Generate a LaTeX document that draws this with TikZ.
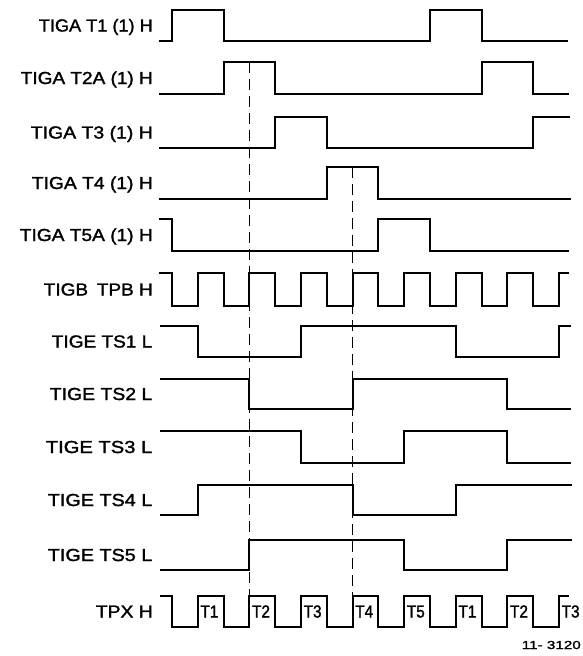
\documentclass[tikz,border=0pt]{standalone}
\usepackage{fontspec}
\setmainfont{Liberation Sans}[FakeBold=1.5]
\newfontfamily\pulsefont{Liberation Sans}[FakeStretch=0.88,FakeBold=1.5]
\newcommand\labfont{\fontsize{17.4}{19}\selectfont}
\newcommand\fignofont{\fontsize{11.6}{13}\selectfont}
\newlength\mylabw
\newcommand\labscale{1}
% #1 font, #2 left edge x, #3 right edge x, #4 text: text scaled to fill the span
\newcommand\fitlab[4]{\settowidth\mylabw{#1#4}%
  \pgfmathsetmacro\labscale{(#3-#2)/\mylabw}%
  \scalebox{\labscale}[1]{#1#4}}
\begin{document}
\begin{tikzpicture}[x=1pt,y=-1pt,
  declare function={tk(\k)=172+25.8*\k;},
  wave/.style={line width=2pt,line join=miter},
  guide/.style={line width=1.1pt,dash pattern=on 11pt off 6pt},
  lab/.style={anchor=base east,inner sep=0pt},
  plab/.style={anchor=base west,inner sep=0pt,font=\pulsefont\fontsize{17.4}{19}\selectfont},
  figno/.style={anchor=base east,inner sep=0pt}]
\useasboundingbox (0,0) rectangle (583,656);

% labels
\node[lab] (l1)  at (153,31.5)  {\fitlab{\labfont}{39}{153}{TIGA T1 (1) H}};
\node[lab] (l2)  at (153,84)    {\fitlab{\labfont}{21}{153}{TIGA T2A (1) H}};
\node[lab] (l3)  at (153,138.5) {\fitlab{\labfont}{31}{153}{TIGA T3 (1) H}};
\node[lab] (l4)  at (153,189)   {\fitlab{\labfont}{32}{153}{TIGA T4 (1) H}};
\node[lab] (l5)  at (153,241)   {\fitlab{\labfont}{20}{153}{TIGA T5A (1) H}};
\node[lab] (l6)  at (153,295.5) {\fitlab{\labfont}{44}{153}{TIGB\hspace{8pt}TPB H}};
\node[lab] (l7)  at (152.5,347.5) {\fitlab{\labfont}{52}{152.5}{TIGE TS1 L}};
\node[lab] (l8)  at (152.5,400)   {\fitlab{\labfont}{50}{152.5}{TIGE TS2 L}};
\node[lab] (l9)  at (152.5,453)   {\fitlab{\labfont}{46}{152.5}{TIGE TS3 L}};
\node[lab] (l10) at (152.5,506)   {\fitlab{\labfont}{48}{152.5}{TIGE TS4 L}};
\node[lab] (l11) at (152.5,561)   {\fitlab{\labfont}{48}{152.5}{TIGE TS5 L}};
\node[lab] (l12) at (153,617.5) {\fitlab{\labfont}{96}{153}{TPX H}};

% TIGA T1
\draw[wave] (159,41) -| ({tk(0)},10) -| ({tk(2)},41) -| ({tk(10)},10) -| ({tk(12)},41) -- (568,41);
% TIGA T2A
\draw[wave] (159,94) -| ({tk(2)},62) -| ({tk(4)},94) -| ({tk(12)},62) -| ({tk(14)},94) -- (569,94);
% TIGA T3
\draw[wave] (159,148) -| ({tk(4)},117) -| ({tk(6)},148) -| ({tk(14)},117) -- (570,117);
% TIGA T4
\draw[wave] (159,199) -| ({tk(6)},167) -| ({tk(8)},199) -- (571,199);
% TIGA T5A
\draw[wave] (159,219) -| ({tk(0)},251) -| ({tk(8)},219) -| ({tk(10)},251) -- (569,251);
% TIGB TPB
\draw[wave] (159,273) foreach \k in {0,...,15}{ -| ({tk(\k)},{ifthenelse(isodd(\k),273,306)}) } -- (569,273);
% TIGE TS1
\draw[wave] (160,326) -| ({tk(1)},357) -| ({tk(5)},326) -| ({tk(11)},357) -| ({tk(15)},326) -- (571,326);
% TIGE TS2
\draw[wave] (160,379) -| ({tk(3)},409) -| ({tk(7)},379) -| ({tk(13)},409) -- (571,409);
% TIGE TS3
\draw[wave] (160,431) -| ({tk(5)},463) -| ({tk(9)},431) -| ({tk(13)},463) -- (571,463);
% TIGE TS4
\draw[wave] (160,515) -| ({tk(1)},485) -| ({tk(7)},515) -| ({tk(11)},485) -- (572,485);
% TIGE TS5
\draw[wave] (160,570) -| ({tk(3)},540) -| ({tk(9)},570) -| ({tk(13)},540) -- (572,540);
% TPX
\draw[wave] (160,596) foreach \k in {0,...,15}{ -| ({tk(\k)},{ifthenelse(isodd(\k),596,627)}) } -- (569,596);

% pulse labels
\foreach \k/\t [count=\i] in {1/T1,3/T2,5/T3,7/T4,9/T5,11/T1,13/T2,15/T3}
  \node[plab] (p\i) at ({tk(\k)+2.5},617.5) {\t};

% dashed guides
\coordinate (da) at ({tk(3)},62);
\coordinate (db) at ({tk(3)},596);
\coordinate (dc) at ({tk(7)},167);
\coordinate (dd) at ({tk(7)},596);
\draw[guide] (da) -- (db);
\draw[guide] (dc) -- (dd);

\node[figno] (c) at (581,649) {\fitlab{\fignofont}{522}{581}{11- 3120}};
\end{tikzpicture}
\end{document}
